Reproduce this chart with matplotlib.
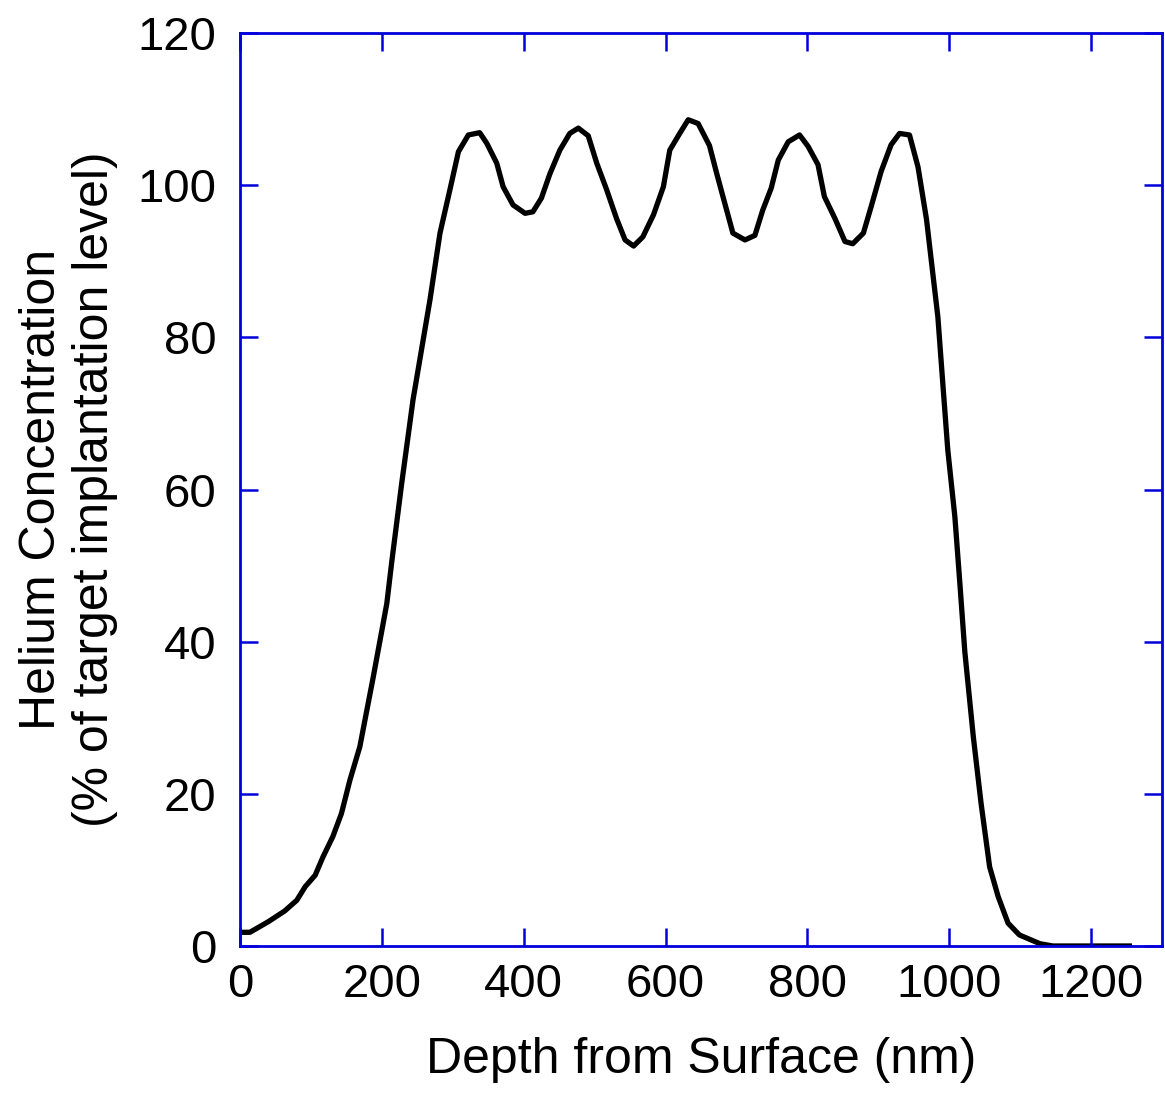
import matplotlib.pyplot as plt

# helium depth profile
depth = [0, 14, 40, 63, 80, 92, 106, 117, 131, 143,
         155, 169, 188, 207, 214, 228, 244, 268, 282,
         296, 308, 322, 338, 348, 362, 371, 385, 402, 413,
         425, 437, 451, 465, 477, 491, 503, 517, 531, 543,
         555, 568, 583, 597, 606, 620, 632, 646, 662, 672,
         681, 695, 712, 726, 737, 749, 759, 773, 789, 801,
         815, 824, 839, 853, 864, 879, 890, 904, 918, 930,
         944, 956, 968, 984, 991, 998, 1008, 1015, 1022, 1034,
         1045, 1057, 1069, 1083, 1099, 1128, 1146, 1254]
conc = [1.8, 1.8, 3.2, 4.6, 6.0, 7.8, 9.3, 11.7, 14.4, 17.4,
        21.8, 26.2, 35.4, 45, 50.5, 60.8, 71.8, 85.0, 93.7,
        99.4, 104.4, 106.6, 106.9, 105.5, 102.9, 99.8, 97.4, 96.3, 96.5,
        98.3, 101.5, 104.6, 106.8, 107.5, 106.5, 102.9, 99.4, 95.6, 92.8,
        92.0, 93.2, 96.1, 99.8, 104.6, 106.8, 108.6, 108.1, 105.2, 101.6,
        98.5, 93.7, 92.8, 93.4, 96.7, 99.6, 103.3, 105.7, 106.6, 105.1,
        102.7, 98.5, 95.6, 92.6, 92.3, 93.7, 97.2, 101.8, 105.3, 106.8,
        106.6, 102.4, 95.5, 82.7, 73.9, 65.2, 56.4, 47.7, 38.7, 27.5,
        18.7, 10.4, 6.5, 3.0, 1.45, 0.3, 0, 0]

xticks = [0, 200, 400, 600, 800, 1000, 1200]
yticks = [0, 20, 40, 60, 80, 100, 120]

plt.rcParams['font.family'] = ['Liberation Sans', 'DejaVu Sans']
blue = '#0000dd'

fig = plt.figure(figsize=(11.65, 10.93), dpi=100)
ax = fig.add_axes([0.206, 0.1345, 0.7914, 0.8353])

ax.plot(depth, conc, color='black', linewidth=3.8, zorder=1)

ax.set_xlim(0, 1300)
ax.set_ylim(0, 120)
ax.set_xticks(xticks)
ax.set_yticks(yticks)

for sp in ax.spines.values():
    sp.set_color(blue)
    sp.set_linewidth(2)
    sp.set_zorder(2)

ax.tick_params(axis='both', which='major', direction='in', length=13, width=1.8,
               color=blue, top=True, right=True, labelsize=34)
ax.tick_params(axis='x', pad=12)
ax.tick_params(axis='y', pad=17)

ax.set_xlabel('Depth from Surface (nm)', fontsize=36, labelpad=22)
ax.set_ylabel('Helium Concentration\n(% of target implantation level)', fontsize=36,
              labelpad=14, linespacing=1.2)

fig.savefig('out.png', dpi=100)
